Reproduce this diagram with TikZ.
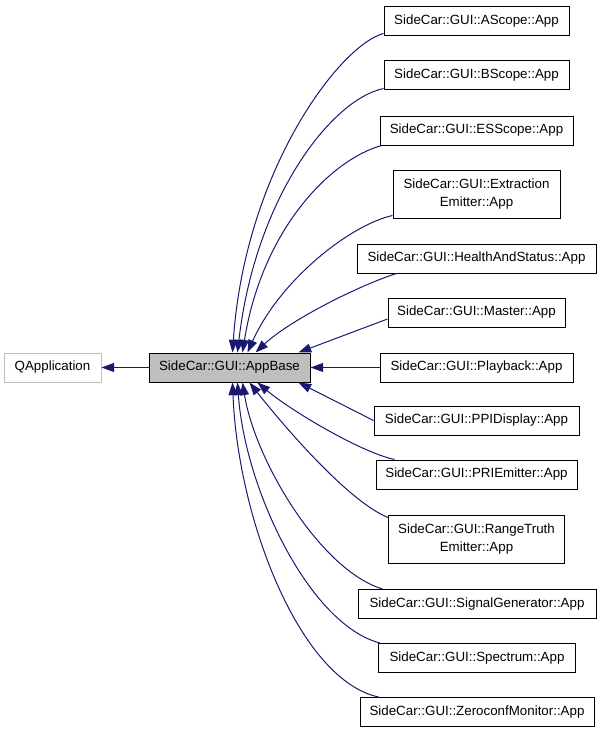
\documentclass[tikz,border=0pt]{standalone}
\usepackage{fontspec}
\setmainfont{Liberation Sans}
\usetikzlibrary{arrows.meta,calc}
\definecolor{edgeblue}{RGB}{25,25,112}
\definecolor{basegray}{RGB}{191,191,191}
\begin{document}
\begin{tikzpicture}[x=0.75pt,y=0.75pt,
  box/.style={draw=black, line width=0.75pt, fill=white, inner sep=0pt,
    minimum height=21.75pt, align=center, font=\fontsize{10}{14}\selectfont},
  twoline/.style={box, minimum height=36pt},
  edge/.style={draw=edgeblue, line width=0.75pt, -{Triangle[length=9.5pt,width=6.75pt]}}]
\path[use as bounding box] (0,0) rectangle (601,-735);

\node[box, draw=basegray, minimum width=72.75pt] (qapp) at (52.5,-367.5) {QApplication};
\node[box, fill=basegray, minimum width=120.75pt] (base) at (229.5,-367.5) {SideCar::GUI::AppBase};

\node[box, minimum width=138.75pt] (asc) at (476.5,-21.5) {SideCar::GUI::AScope::App};
\node[box, minimum width=138.75pt] (bsc) at (476.5,-75.5) {SideCar::GUI::BScope::App};
\node[box, minimum width=144.75pt] (essc) at (476.5,-130.5) {SideCar::GUI::ESScope::App};
\node[twoline, minimum width=125.25pt] (ext) at (476.5,-194) {SideCar::GUI::Extraction\\Emitter::App};
\node[box, minimum width=179.25pt] (has) at (476.5,-258.5) {SideCar::GUI::HealthAndStatus::App};
\node[box, minimum width=132.75pt] (mas) at (476.5,-312.5) {SideCar::GUI::Master::App};
\node[box, minimum width=144.75pt] (pb) at (476.5,-367.5) {SideCar::GUI::Playback::App};
\node[box, minimum width=153.75pt] (ppi) at (476.5,-420.5) {SideCar::GUI::PPIDisplay::App};
\node[box, minimum width=150.75pt] (pri) at (476.5,-474.5) {SideCar::GUI::PRIEmitter::App};
\node[twoline, minimum width=132pt] (rt) at (476.5,-539) {SideCar::GUI::RangeTruth\\Emitter::App};
\node[box, minimum width=178.5pt] (sg) at (477,-604) {SideCar::GUI::SignalGenerator::App};
\node[box, minimum width=147.75pt] (sp) at (477,-658) {SideCar::GUI::Spectrum::App};
\node[box, minimum width=175.5pt] (zc) at (477,-712) {SideCar::GUI::ZeroconfMonitor::App};

\draw[edge] (base.west) -- (qapp.east);

\draw[edge] ($(asc.south west)+(0,3)$) .. controls (340,-45) and (245,-170) .. ($(base.north west)+(84,0)$);
\draw[edge] ($(bsc.south west)+(0,2)$) .. controls (330,-100) and (255,-200) .. ($(base.north west)+(89,0)$);
\draw[edge] ($(essc.south west)+(2,0)$) .. controls (330,-160) and (262,-230) .. ($(base.north west)+(94,0)$);
\draw[edge] ($(ext.south west)+(0,3)$) .. controls (350,-225) and (280,-280) .. ($(base.north west)+(99,0)$);
\draw[edge] ($(has.south west)+(40,0)$) .. controls (360,-285) and (290,-320) .. ($(base.north west)+(107,0)$);
\draw[edge] ($(mas.west)+(0,-6.5)$) -- ($(base.north east)+(-12,0)$);
\draw[edge] (pb.west) -- (base.east);
\draw[edge] (ppi.west) -- ($(base.south east)+(-12,0)$);
\draw[edge] ($(pri.north west)+(19,0)$) .. controls (360,-452) and (290,-410) .. ($(base.south west)+(109,0)$);
\draw[edge] ($(rt.north west)+(0,-3)$) .. controls (345,-500) and (275,-415) .. ($(base.south west)+(101,0)$);
\draw[edge] ($(sg.north west)+(25,0)$) .. controls (320,-570) and (255,-460) .. ($(base.south west)+(94,0)$);
\draw[edge] ($(sp.north west)+(2,0)$) .. controls (310,-625) and (245,-490) .. ($(base.south west)+(89,0)$);
\draw[edge] ($(zc.north west)+(19,0)$) .. controls (300,-680) and (238,-520) .. ($(base.south west)+(84,0)$);
\end{tikzpicture}
\end{document}
